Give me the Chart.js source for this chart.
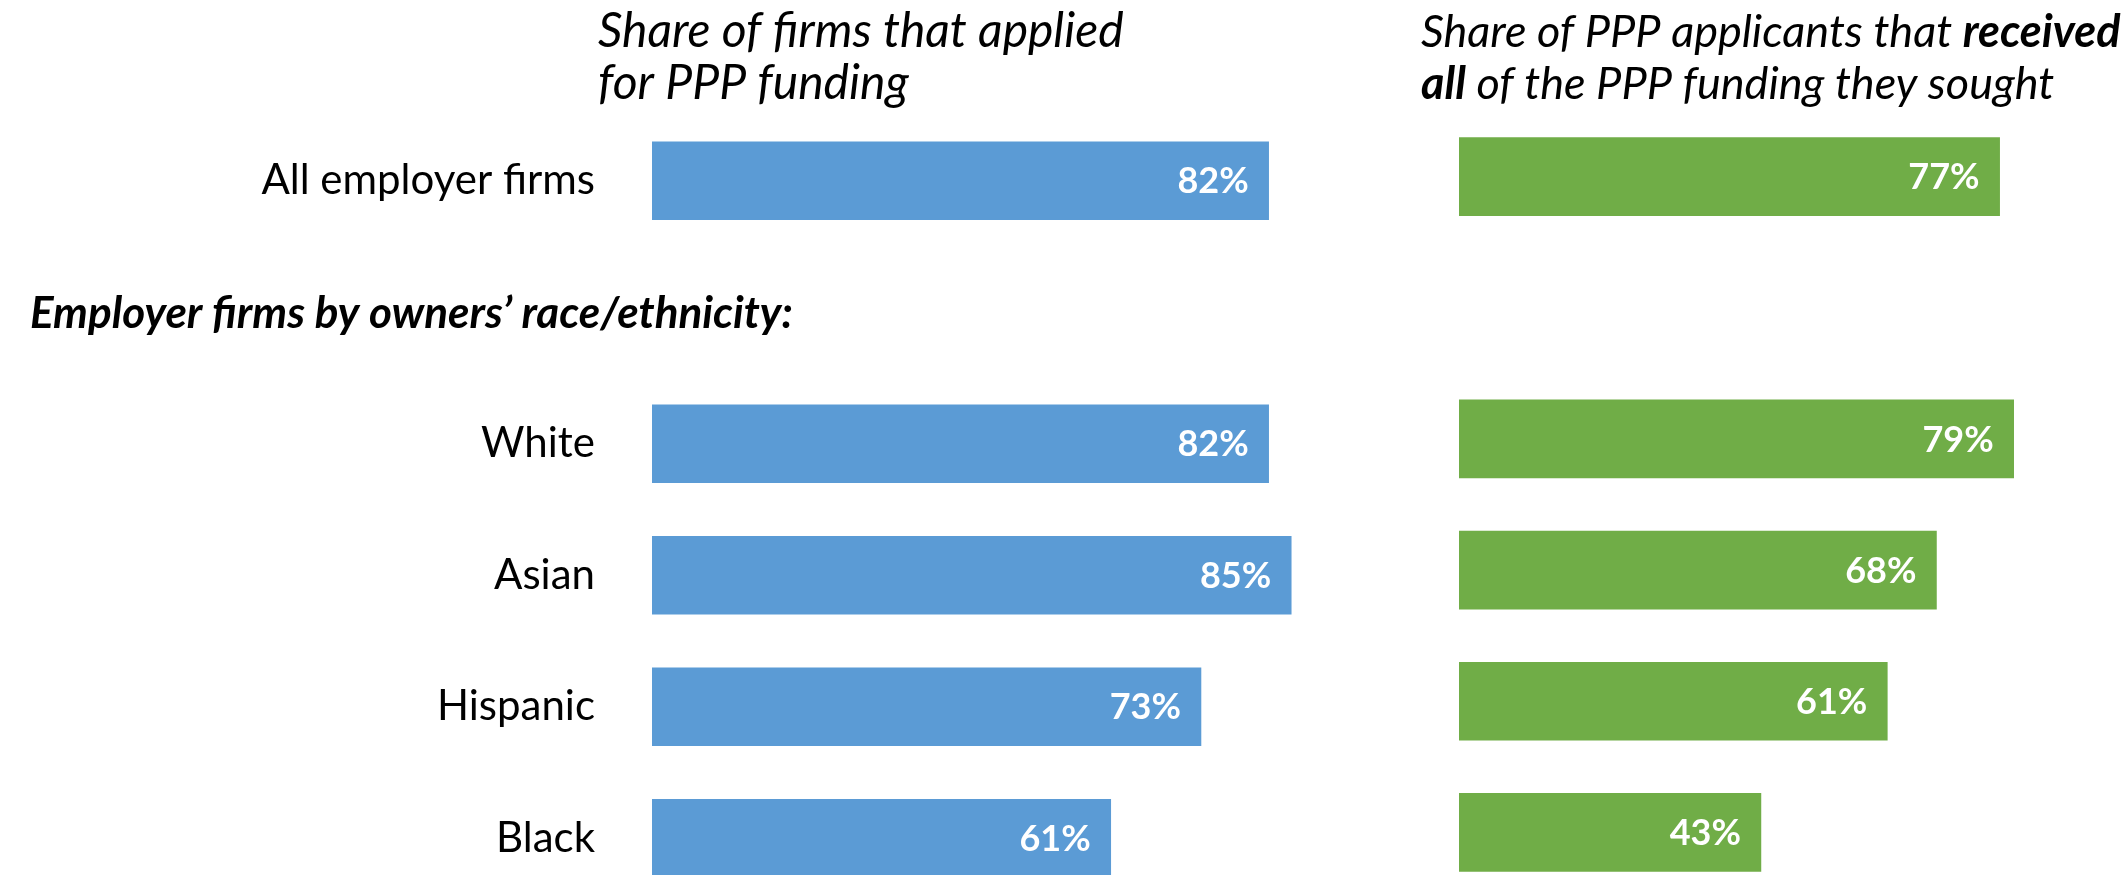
<!DOCTYPE html>
<html>
<head>
<meta charset="utf-8">
<script src="https://cdn.jsdelivr.net/npm/chart.js@4.4.1/dist/chart.umd.min.js"></script>
<style>
  html, body { margin: 0; padding: 0; width: 2126px; height: 875px; overflow: hidden; background: #fff; }
  .panel { position: absolute; top: 0; }
  #leftWrap { left: 0; width: 1404px; height: 904px; }
  #rightWrap { left: 1404px; width: 722px; height: 898px; }
</style>
</head>
<body>
<div id="leftWrap" class="panel"><canvas id="applied"></canvas></div>
<div id="rightWrap" class="panel"><canvas id="received"></canvas></div>
<script>
// PPP application / approval by owner race (employer firms)

const CATEGORIES = ["All employer firms", "", "White", "Asian", "Hispanic", "Black"];
const APPLIED = [82, null, 82, 85, 73, 61];
const RECEIVED_ALL = [77, null, 79, 68, 61, 43];
const GROUP_HEADING = "Employer firms by owners\u2019 race/ethnicity:";
// title lines: [text, bold]
const APPLIED_TITLE = [
  [["Share of firms that applied", false]],
  [["for PPP funding", false]],
];
const RECEIVED_TITLE = [
  [["Share of PPP applicants that ", false], ["received", true]],
  [["all", true], [" of the PPP funding they sought", false]],
];

const PALETTE = {
  blue: "#5b9bd5",
  green: "#70ad47",
  text: "#000000",
};

const FONT = "Lato, 'Open Sans', sans-serif";
Chart.defaults.font.family = FONT;
Chart.defaults.color = PALETTE.text;

// 标题 (两行, 斜体, 部分加粗)
const headerPlugin = {
  id: "headerText",
  afterDraw(chart, args, opts) {
    const ctx = chart.ctx;
    ctx.save();
    ctx.fillStyle = PALETTE.text;
    ctx.textBaseline = "alphabetic";
    ctx.textAlign = "left";
    opts.lines.forEach((line, i) => {
      let x = opts.x;
      line.forEach(([txt, bold]) => {
        ctx.font = `italic ${bold ? "bold " : ""}${opts.size}px ${FONT}`;
        ctx.fillText(txt, x, opts.baselines[i]);
        x += ctx.measureText(txt).width;
      });
    });
    ctx.restore();
  },
};

// 条形末端的白色数值
const valuePlugin = {
  id: "barValues",
  afterDatasetsDraw(chart) {
    const ctx = chart.ctx;
    ctx.save();
    ctx.font = `bold 36px ${FONT}`;
    ctx.fillStyle = "#ffffff";
    ctx.textAlign = "right";
    ctx.textBaseline = "middle";
    const ds = chart.data.datasets[0];
    chart.getDatasetMeta(0).data.forEach((bar, i) => {
      const v = ds.data[i];
      if (v == null) return;
      ctx.fillText(v + "%", bar.x - 20, bar.y + 1);
    });
    ctx.restore();
  },
};

// 分组小标题
const groupPlugin = {
  id: "groupHeading",
  afterDraw(chart, args, opts) {
    const ctx = chart.ctx;
    const y = chart.scales.y.getPixelForValue(opts.index);
    ctx.save();
    ctx.font = `italic bold 44px ${FONT}`;
    ctx.fillStyle = PALETTE.text;
    ctx.textAlign = "left";
    ctx.textBaseline = "middle";
    ctx.fillText(opts.text, opts.x, y + 2);
    ctx.restore();
  },
};

function renderApplied(ctx) {
  new Chart(ctx, {
    type: "bar",
    data: {
      labels: CATEGORIES,
      datasets: [{ data: APPLIED, backgroundColor: PALETTE.blue, borderWidth: 0, barThickness: 78 }],
    },
    plugins: [headerPlugin, valuePlugin, groupPlugin],
    options: {
      indexAxis: "y",
      responsive: true,
      maintainAspectRatio: false,
      animation: false,
      layout: { padding: { top: 115, right: 0, bottom: 0, left: 0 } },
      plugins: {
        legend: { display: false },
        tooltip: { enabled: false },
        headerText: { x: 598, size: 48, baselines: [47, 99], lines: APPLIED_TITLE },
        groupHeading: { x: 30, index: 1, text: GROUP_HEADING },
      },
      scales: {
        x: { display: false, min: 0, max: 100 },
        y: {
          grid: { display: false, drawTicks: false },
          border: { display: false },
          ticks: { font: { size: 42 }, color: PALETTE.text, padding: 57 },
          afterFit: (s) => {
            s.width = 652;
            s.paddingTop = 0;
            s.paddingBottom = 0;
          },
        },
      },
    },
  });
}

function renderReceived(ctx) {
  new Chart(ctx, {
    type: "bar",
    data: {
      labels: CATEGORIES,
      datasets: [{ data: RECEIVED_ALL, backgroundColor: PALETTE.green, borderWidth: 0, barThickness: 78 }],
    },
    plugins: [headerPlugin, valuePlugin],
    options: {
      indexAxis: "y",
      responsive: true,
      maintainAspectRatio: false,
      animation: false,
      layout: { padding: { top: 111, right: 0, bottom: 0, left: 55 } },
      plugins: {
        legend: { display: false },
        tooltip: { enabled: false },
        headerText: { x: 17, size: 45, baselines: [47, 99], lines: RECEIVED_TITLE },
      },
      scales: {
        x: { display: false, min: 0, max: 95 },
        y: { display: false },
      },
    },
  });
}

renderApplied(document.getElementById("applied"));
renderReceived(document.getElementById("received"));
</script>
</body>
</html>
